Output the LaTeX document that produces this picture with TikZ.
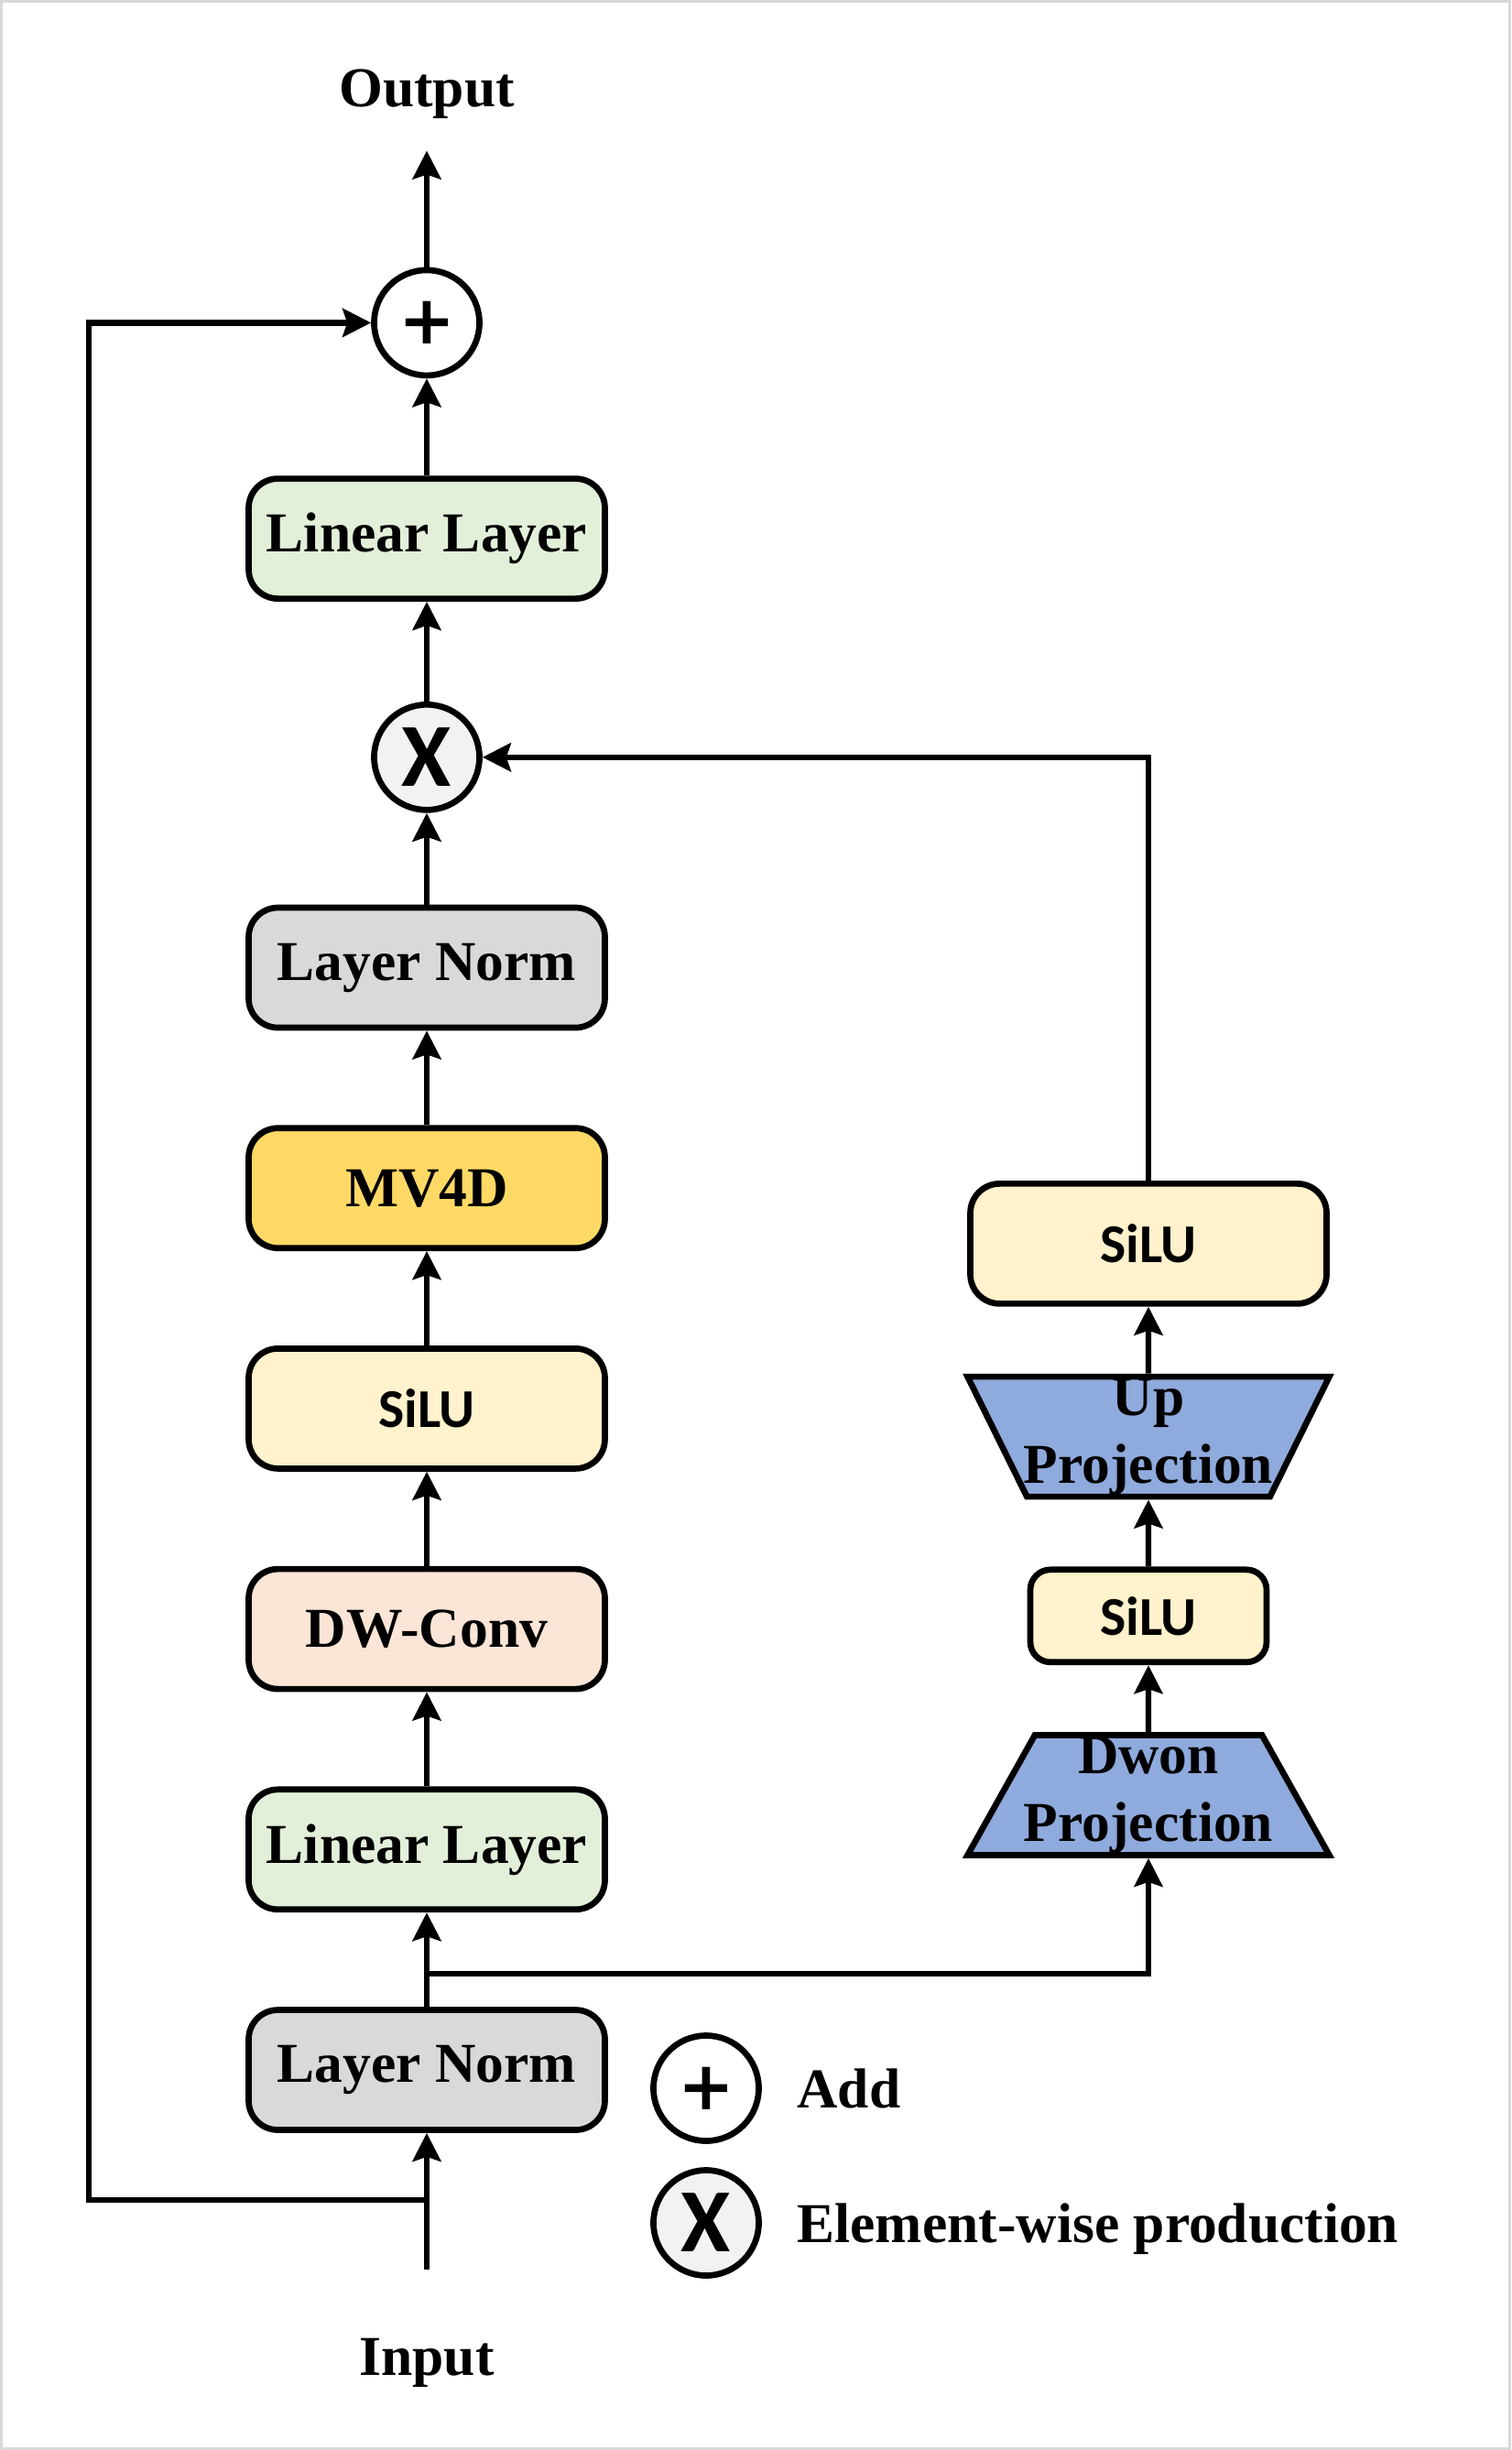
\documentclass[tikz,border=0pt]{standalone}
\usepackage{fontspec}
\setmainfont{Liberation Serif}
\newfontfamily\silufont{Carlito}
\newfontfamily\opsymfont{DejaVu Sans}
\usepackage{tikz}
\usetikzlibrary{positioning, arrows.meta, shapes.geometric}

\definecolor{lingreen}{HTML}{E2F0D9}
\definecolor{normgray}{HTML}{D9D9D9}
\definecolor{mvgold}{HTML}{FFD966}
\definecolor{siluyellow}{HTML}{FFF2CC}
\definecolor{convpeach}{HTML}{FBE5D6}
\definecolor{projblue}{HTML}{8FAADC}
\definecolor{mulgray}{HTML}{F2F2F2}

\begin{document}
\begin{tikzpicture}[
   box/.style={draw, line width=0.067cm, rounded corners=0.32cm, align=center,
         minimum height=1.31cm, minimum width=3.89cm, inner sep=0pt,
         font=\fontsize{17.5}{21}\selectfont\bfseries},
   silubox/.style={box, fill=siluyellow,
         font=\silufont\bfseries\fontsize{17}{20}\selectfont},
   proj/.style={draw, line width=0.067cm, trapezium, trapezium stretches body,
         fill=projblue, minimum height=1.31cm, minimum width=3.95cm, inner sep=0pt,
         align=center, font=\fontsize{17.5}{21}\selectfont\bfseries},
   opnode/.style={draw, circle, line width=0.067cm, minimum size=1.15cm, inner sep=0pt},
   addsign/.style={opnode, fill=white, font=\opsymfont\bfseries\fontsize{21}{21}\selectfont},
   mulsign/.style={opnode, fill=mulgray, font=\silufont\bfseries\fontsize{28}{28}\selectfont},
   lbl/.style={inner sep=0pt, text depth=0pt, font=\fontsize{17.5}{21}\selectfont\bfseries},
   arr/.style={-{Stealth[length=0.31cm, width=0.31cm, inset=0.05cm]}, line width=0.062cm},
   node distance=1.03cm and 0.38cm,
  ]
  \useasboundingbox (0,0) rectangle (16.5,-26.75);
  \draw[black!15, line width=0.03cm] (0.015,-0.015) rectangle (16.485,-26.735);

  % main column
  \node[box, fill=normgray] (lnorm1) at (4.66,-22.60) {Layer Norm};
  \node[box, fill=lingreen, above=of lnorm1] (lin1) {Linear Layer};
  \node[box, fill=convpeach, above=of lin1] (dwconv) {DW-Conv};
  \node[silubox, above=of dwconv] (silu1) {SiLU};
  \node[box, fill=mvgold, above=of silu1] (mv4d) {MV4D};
  \node[box, fill=normgray, above=of mv4d] (lnorm2) {Layer Norm};
  \node[mulsign, above=1.0cm of lnorm2] (mul) {X};
  \node[box, fill=lingreen, above=1.09cm of mul] (lin2) {Linear Layer};
  \node[addsign, above=1.06cm of lin2] (add) {+};
  \coordinate[above=1.27cm of add] (outtip);
  \node[lbl, above=0.47cm of outtip] (output) {Output};

  % right branch
  \node[proj, trapezium left angle=60, trapezium right angle=60] (dwon)
    at (12.54,-19.60) {Dwon\\\makebox[0pt]{Projection}};
  \node[silubox, minimum width=2.58cm, minimum height=1.01cm, rounded corners=0.22cm,
    above=0.73cm of dwon] (silu3) {SiLU};
  \node[proj, trapezium left angle=117, trapezium right angle=117,
    above=0.73cm of silu3] (upproj) {Up\\\makebox[0pt]{Projection}};
  \node[silubox, above=0.73cm of upproj] (silu2) {SiLU};

  % legend
  \node[addsign] (addsym) at (7.71,-22.80) {+};
  \node[lbl, right=of addsym] (addtxt) {Add};
  \node[mulsign] (mulsym) at (7.71,-24.27) {X};
  \node[lbl, right=of mulsym] (multxt) {Element-wise production};

  % input side
  \coordinate (inbot) at (4.66,-24.78);
  \node[lbl, below=0.74cm of inbot] (input) {Input};
  \coordinate (split) at (4.66,-21.55);
  \coordinate (skip) at (4.66,-24.02);
  \coordinate (skipL) at (0.97,-24.02);

  \draw[arr] (inbot) -- (lnorm1);
  \draw[arr] (lnorm1) -- (lin1);
  \draw[arr] (lin1) -- (dwconv);
  \draw[arr] (dwconv) -- (silu1);
  \draw[arr] (silu1) -- (mv4d);
  \draw[arr] (mv4d) -- (lnorm2);
  \draw[arr] (lnorm2) -- (mul);
  \draw[arr] (mul) -- (lin2);
  \draw[arr] (lin2) -- (add);
  \draw[arr] (add) -- (outtip);

  \draw[arr] (split) -| (dwon.south);
  \draw[arr] (dwon) -- (silu3);
  \draw[arr] (silu3) -- (upproj);
  \draw[arr] (upproj) -- (silu2);
  \draw[arr] (silu2.north) |- (mul.east);

  \draw[arr] (skip) -- (skipL) |- (add.west);
 \end{tikzpicture}
\end{document}
